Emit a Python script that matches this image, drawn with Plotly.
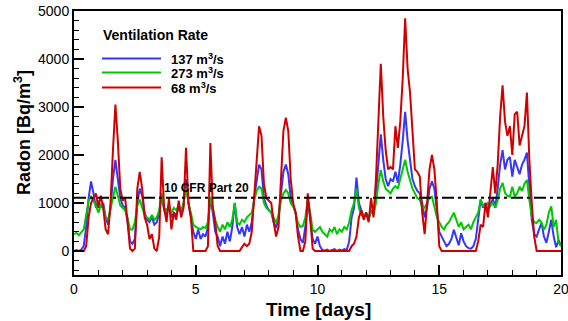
import plotly.graph_objects as go

# ---- data ----
days = [round(i * 0.1, 1) for i in range(201)]

radon_137 = [
    0, 20, 0, 30, 100, 500, 1100, 1450, 1200, 900,
    1050, 900, 1000, 700, 550, 900, 1500, 1900, 1500, 1100,
    950, 900, 600, 200, 150, 250, 1000, 1300, 1150, 800,
    650, 600, 700, 550, 600, 800, 1150, 850, 750, 950,
    700, 800, 750, 900, 800, 950, 1500, 1000, 700, 400,
    250, 450, 250, 350, 300, 500, 1100, 800, 400, 300,
    100, 300, 150, 400, 200, 500, 1000, 500, 350, 500,
    300, 550, 400, 600, 1100, 1500, 1800, 1700, 1100, 950,
    850, 800, 600, 480, 700, 1200, 1650, 1800, 1600, 1100,
    950, 800, 450, 250, 170, 500, 1070, 700, 250, 150,
    300, 100, 20, 10, 30, 0, 20, 40, 0, 30,
    10, 40, 20, 200, 700, 900, 1530, 1000, 850, 700,
    800, 650, 850, 750, 1200, 1900, 2430, 1900, 1500, 1350,
    1500, 1450, 1650, 1420, 1800, 2300, 2900, 2300, 1900, 1500,
    1350, 1250, 1200, 1000, 700, 900, 1300, 1450, 1300, 900,
    400, 300, 200, 100, 150, 250, 440, 300, 120, 370,
    200, 100, 60, 50, 100, 250, 700, 1070, 900, 1000,
    850, 950, 1100, 900, 1300, 1800, 2100, 1700, 1900, 1960,
    1550, 1900, 1750, 1600, 1800, 1900, 2050, 1340, 650, 350,
    300, 450, 580, 300, 170, 400, 650, 300, 80, 230,
    100,
]

radon_273 = [
    350, 380, 330, 400, 450, 750, 1050, 1130, 1050, 950,
    800, 950, 900, 700, 650, 900, 1150, 1340, 1150, 950,
    900, 850, 700, 450, 450, 600, 950, 1070, 900, 750,
    700, 650, 750, 650, 700, 850, 1200, 900, 850, 950,
    800, 900, 850, 950, 850, 1000, 1300, 1000, 800, 550,
    500, 480, 450, 500, 480, 600, 1130, 900, 650, 500,
    400, 550, 450, 600, 500, 650, 1000, 600, 550, 650,
    600, 700, 750, 800, 1050, 1250, 1340, 1300, 1000, 900,
    850, 800, 700, 580, 750, 1050, 1200, 1270, 1200, 1000,
    930, 800, 580, 500, 520, 700, 1070, 800, 440, 400,
    450, 500, 400, 350, 300, 450, 400, 500, 350, 450,
    400, 500, 450, 600, 850, 1000, 1300, 900, 750, 700,
    800, 700, 850, 750, 1000, 1400, 1690, 1450, 1300, 1250,
    1200, 1300, 1350, 1300, 1500, 1700, 1900, 1650, 1450, 1300,
    1200, 1100, 1070, 900, 900, 1000, 1100, 1130, 900, 710,
    600, 500, 450, 550, 600, 700, 800, 650, 500, 600,
    450, 500, 550, 450, 600, 700, 800, 1070, 950, 900,
    1000, 950, 1000, 900, 1050, 1300, 1420, 1210, 1150, 1130,
    1340, 1130, 1200, 1340, 1250, 1400, 1480, 1070, 710, 600,
    580, 650, 600, 440, 550, 800, 930, 500, 650, 170,
    100,
]

radon_68 = [
    0, 0, 0, 0, 0, 100, 700, 1000, 1100, 1200,
    900, 1150, 900, 450, 350, 1000, 2100, 3050, 2300, 1300,
    1050, 1100, 600, 50, 0, 50, 1300, 1650, 1300, 700,
    550, 250, 350, 50, 0, 300, 1950, 900, 600, 1100,
    450, 800, 650, 1050, 700, 900, 2150, 1000, 700, 0,
    0, 0, 0, 0, 0, 100, 2250, 900, 600, 100,
    0, 0, 0, 0, 0, 0, 0, 0, 0, 80,
    150, 100, 150, 400, 1200, 2000, 2600, 2400, 1400, 1100,
    1050, 1000, 600, 300, 500, 1500, 2500, 2780, 2500, 1500,
    1000, 800, 300, 0, 0, 200, 1200, 700, 50, 0,
    0, 0, 0, 0, 0, 0, 0, 0, 0, 0,
    0, 0, 0, 0, 100, 150, 300, 700, 850, 650,
    800, 600, 1100, 700, 1500, 2800, 3900, 2800, 2100, 1700,
    1750, 1700, 2600, 2150, 2700, 3600, 4850, 3800, 3300, 2500,
    1700, 1650, 1550, 800, 350, 1000, 1700, 2000, 1700, 1000,
    100, 0, 0, 0, 0, 0, 0, 0, 0, 0,
    0, 0, 0, 0, 0, 0, 200, 550, 500, 1000,
    700, 1300, 1750, 1200, 1800, 2800, 3450, 2700, 2400, 2600,
    2000, 2850, 2900, 2200, 2400, 2600, 3300, 1900, 1000, 300,
    0, 0, 0, 0, 0, 0, 0, 0, 0, 0,
    0,
]

series_names = ["137 m<sup>3</sup>/s", "273 m<sup>3</sup>/s", "68 m<sup>3</sup>/s"]
series_colors = ["#3535ff", "#00c800", "#d00000"]
cfr_limit = 1110
cfr_label = "10 CFR Part 20"
legend_title = "Ventilation Rate"
x_title = "Time [days]"
y_title = "Radon [Bq/m<sup>3</sup>]"
x_ticks = [0, 5, 10, 15, 20]
y_ticks = [0, 1000, 2000, 3000, 4000, 5000]

FONT = "Arial, 'Liberation Sans', sans-serif"

fig = go.Figure()
for vals, name, col in zip([radon_137, radon_273, radon_68], series_names, series_colors):
    fig.add_trace(go.Scatter(x=days, y=vals, mode="lines", name=name,
                             line=dict(color=col, width=2), showlegend=False))

# reference limit line
fig.add_trace(go.Scatter(x=[days[0], days[-1]], y=[cfr_limit, cfr_limit], mode="lines",
                         line=dict(color="black", width=2, dash="12px,4px,3px,4px"),
                         showlegend=False, hoverinfo="skip"))

fig.add_annotation(x=5.45, y=cfr_limit, yshift=10, text="<b>%s</b>" % cfr_label,
                   showarrow=False, font=dict(family=FONT, size=12, color="black"))

# manual legend and axis titles (paper coords)
W, H = 568, 321
L, R, T, B = 74, 7, 11, 46
pw, ph = W - L - R, H - T - B

def px(x):
    return (x - L) / pw

def py(y):
    return (H - B - y) / ph

fig.add_annotation(x=px(101), y=py(35), xref="paper", yref="paper", xanchor="left",
                   yanchor="middle", text="<b>%s</b>" % legend_title, showarrow=False,
                   font=dict(family=FONT, size=14, color="black"))
for i, (name, col) in enumerate(zip(series_names, series_colors)):
    yy = [58.5, 72.5, 87.5][i]
    fig.add_shape(type="line", xref="paper", yref="paper", x0=px(102), x1=px(161),
                  y0=py(yy), y1=py(yy), line=dict(color=col, width=2))
    fig.add_annotation(x=px(169), y=py(yy + 0.5), xref="paper", yref="paper", xanchor="left",
                       yanchor="middle", text="<b>%s</b>" % name, showarrow=False,
                       font=dict(family=FONT, size=13, color="black"))

fig.add_annotation(x=px(318), y=py(309), xref="paper", yref="paper", xanchor="center",
                   yanchor="middle", text="<b>%s</b>" % x_title, showarrow=False,
                   font=dict(family=FONT, size=19, color="black"))
fig.add_annotation(x=px(22), y=py(133), xref="paper", yref="paper", xanchor="center",
                   yanchor="middle", text="<b>%s</b>" % y_title, showarrow=False, textangle=-90,
                   font=dict(family=FONT, size=18, color="black"))

fig.update_layout(
    width=W, height=H,
    margin=dict(l=L, r=R, t=T, b=B, pad=0, autoexpand=False),
    paper_bgcolor="white", plot_bgcolor="white",
    font=dict(family=FONT, color="black"),
)
fig.update_xaxes(
    range=[0, 20], tickvals=x_ticks, ticks="inside", ticklen=10, tickwidth=2,
    tickcolor="black", showline=True, linecolor="black", linewidth=2, mirror=True,
    showgrid=False, zeroline=False, tickfont=dict(size=14, family=FONT), automargin=False,
    ticklabeloverflow="allow",
    minor=dict(dtick=1, ticks="inside", ticklen=5, tickwidth=1, tickcolor="black", showgrid=False),
)
fig.update_yaxes(
    range=[-500, 5000], tickvals=y_ticks, ticks="inside", ticklen=10, tickwidth=2,
    tickcolor="black", showline=True, linecolor="black", linewidth=2, mirror=True,
    showgrid=False, zeroline=False, tickfont=dict(size=14, family=FONT), automargin=False,
    minor=dict(dtick=200, tick0=0, ticks="inside", ticklen=5, tickwidth=1, tickcolor="black", showgrid=False),
)

fig.write_html("out.html")
